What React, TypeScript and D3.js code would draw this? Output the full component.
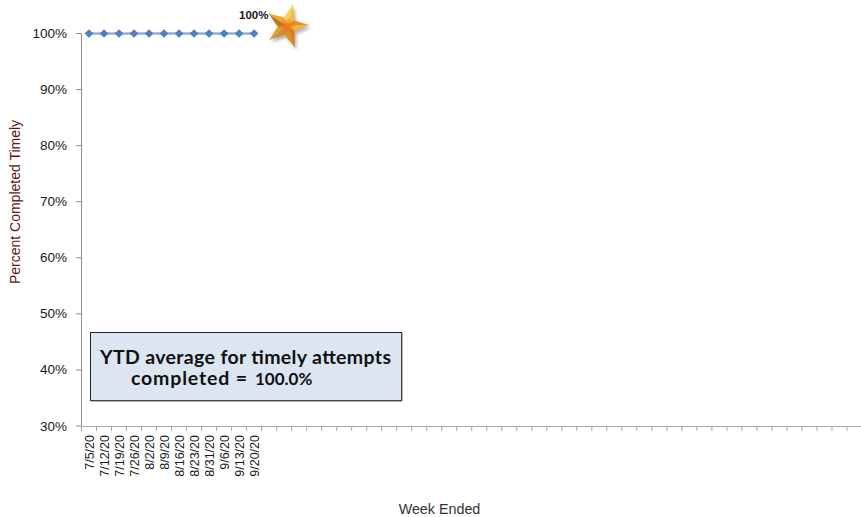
import React from "react";
import * as d3 from "d3";

const dates = ["7/5/20","7/12/20","7/19/20","7/26/20","8/2/20","8/9/20","8/16/20","8/23/20","8/31/20","9/6/20","9/13/20","9/20/20"];
const values = [100,100,100,100,100,100,100,100,100,100,100,100];
const yTicks = [30,40,50,60,70,80,90,100];
const weekCount = 52;
const weeks = d3.range(weekCount);

const x = d3.scaleBand<number>().domain(weeks).range([81.5, 862]).paddingInner(0).paddingOuter(0);
const y = d3.scaleLinear().domain([30, 100]).range([426, 33.5]);
const font = "'Liberation Sans', Arial, sans-serif";

function starFacets(cx: number, cy: number, R: number, r: number, rot: number) {
  const pts = d3.range(10).map(i => {
    const a = rot + i * Math.PI / 5;
    const rad = i % 2 === 0 ? R : r;
    return [cx + rad * Math.cos(a), cy + rad * Math.sin(a)] as [number, number];
  });
  return pts.map((p, i) => {
    const q = pts[(i + 1) % 10];
    return { d: `M${cx},${cy}L${p[0]},${p[1]}L${q[0]},${q[1]}Z`, i };
  });
}

const facetFill = ["#f5bd45","#e8921e","#f5b53c","#dc801a","#e29020","#cf9028","#dfa030","#bd741c","#eca82e","#fbcf5f"];

export default function App() {
  const line = d3.line<number>().x((_, i) => x(i)! + x.bandwidth() / 2).y(d => y(d));
  const cx = 287, cy = 26;
  const rot = -74 * Math.PI / 180;
  const facets = starFacets(cx, cy, 22, 9, rot);
  const shadow = starFacets(cx + 2, cy + 3, 22, 9, rot);
  return (
    <svg width={861} height={517} style={{ position: "fixed", left: 0, top: 0, background: "#fff" }} fontFamily={font}>
      <defs>
        <filter id="blur" x="-30%" y="-30%" width="160%" height="160%"><feGaussianBlur stdDeviation="1.8" /></filter>
        <radialGradient id="core">
          <stop offset="0%" stopColor="#e8701a" stopOpacity={0.9} />
          <stop offset="100%" stopColor="#e8701a" stopOpacity={0} />
        </radialGradient>
      </defs>
      <line x1={81.5} x2={81.5} y1={y(100)} y2={y(30)} stroke="#8c8c8c" strokeWidth={1} />
      <line x1={81.5} x2={861} y1={426.5} y2={426.5} stroke="#a6a6a6" strokeWidth={1} />
      {yTicks.map(t => (
        <g key={t}>
          <line x1={76} x2={81.5} y1={y(t)} y2={y(t)} stroke="#8c8c8c" />
          <text x={67} y={y(t) + 4.5} textAnchor="end" fontSize={13.5} fill="#1a1a1a">{t}%</text>
        </g>
      ))}
      {weeks.map(w => (
        <line key={w} x1={x(w)!} x2={x(w)!} y1={426.5} y2={431} stroke="#a6a6a6" />
      ))}
      {dates.map((d, i) => (
        <text key={d} transform={`translate(${x(i)! + x.bandwidth() / 2 + 5},435) rotate(-90)`} textAnchor="end" fontSize={12.5} fill="#1a1a1a">{d}</text>
      ))}
      <text transform="translate(19.5,202) rotate(-90)" textAnchor="middle" fontSize={14} fill="#5a1a12">Percent Completed Timely</text>
      <text x={439.5} y={514} textAnchor="middle" fontSize={14.3} fill="#333">Week Ended</text>

      <path d={line(values)!} fill="none" stroke="#8fb0dd" strokeWidth={2.5} />
      {values.map((v, i) => (
        <path key={i} transform={`translate(${x(i)! + x.bandwidth() / 2},${y(v)}) rotate(45)`} d={d3.symbol(d3.symbolSquare, 38)()!} fill="#4f81bd" />
      ))}

      <g filter="url(#blur)" opacity={0.5}>
        {shadow.map(f => <path key={f.i} d={f.d} fill="#6b6b6b" />)}
      </g>
      {facets.map(f => <path key={f.i} d={f.d} fill={facetFill[f.i]} stroke={facetFill[f.i]} strokeWidth={0.3} />)}
      <circle cx={cx} cy={cy} r={9} fill="url(#core)" />
      <text x={239} y={19} fontSize={11.5} fontWeight={700} fill="#1a1a1a">100%</text>

      <rect x={90.5} y={332.5} width={311} height={68} fill="#dce6f2" stroke="#222" strokeWidth={1} />
      <line x1={91} x2={402} y1={401} y2={401} stroke="#666" strokeWidth={1} />
      <line x1={402} x2={402} y1={333} y2={401} stroke="#666" strokeWidth={1} />
      <text x={100} y={364} fontFamily="Lato, sans-serif" fontWeight={700} fontSize={19.5} fill="#111" textLength={291}>YTD average for timely attempts</text>
      <text x={131} y={385} fontFamily="Lato, sans-serif" fontWeight={700} fontSize={19.5} fill="#111" textLength={116}>completed =</text>
      <text x={255} y={385} fontFamily="Lato, sans-serif" fontWeight={700} fontSize={17} fill="#111">100.0%</text>
    </svg>
  );
}
